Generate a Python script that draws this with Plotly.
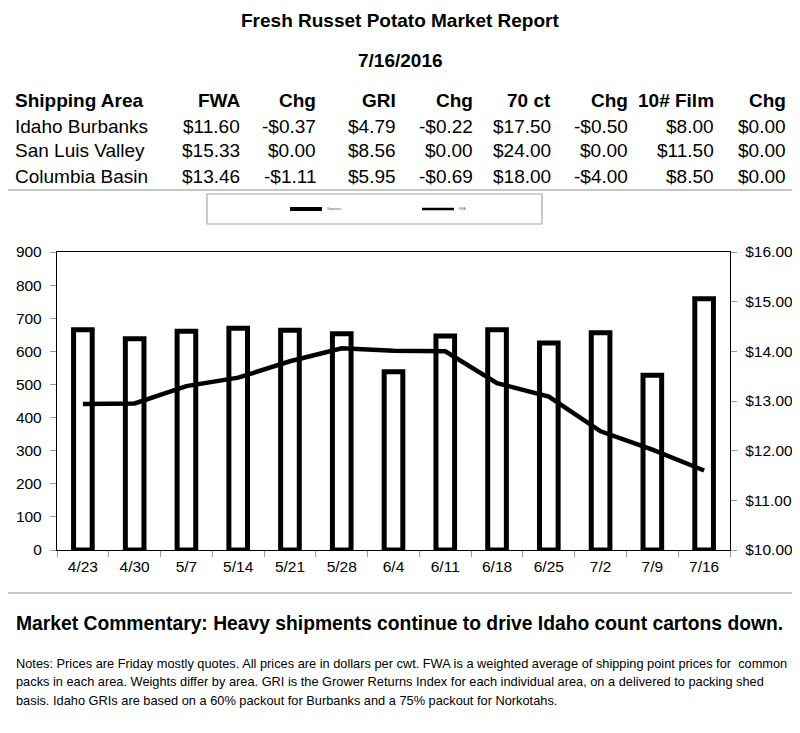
import plotly.graph_objects as go

# The page body has an 8px margin, so the figure spans 8..800 x 8..733 of the window
OFF = 8
W, H = 800 - OFF, 733 - OFF

title = "Fresh Russet Potato Market Report"
report_date = "7/16/2016"
table_header = ["Shipping Area", "FWA", "Chg", "GRI", "Chg", "70 ct", "Chg", "10# Film", "Chg"]
areas = ["Idaho Burbanks", "San Luis Valley", "Columbia Basin"]
fwa_vals = ["$11.60", "$15.33", "$13.46"]
fwa_chg = ["-$0.37", "$0.00", "-$1.11"]
gri_vals = ["$4.79", "$8.56", "$5.95"]
gri_chg = ["-$0.22", "$0.00", "-$0.69"]
ct70_vals = ["$17.50", "$24.00", "$18.00"]
ct70_chg = ["-$0.50", "$0.00", "-$4.00"]
film_vals = ["$8.00", "$11.50", "$8.50"]
film_chg = ["$0.00", "$0.00", "$0.00"]

weeks = ["4/23", "4/30", "5/7", "5/14", "5/21", "5/28", "6/4", "6/11", "6/18", "6/25", "7/2", "7/9", "7/16"]
shipments = [665, 638, 661, 670, 664, 653, 538, 646, 665, 625, 656, 528, 759]
fwa_idaho = [12.94, 12.95, 13.30, 13.47, 13.80, 14.06, 14.01, 14.00, 13.36, 13.09, 12.39, 12.02, 11.60]
legend_names = ["Shipments", "FWA"]

commentary = "Market Commentary: Heavy shipments continue to drive Idaho count cartons down."
notes_lines = [
    "Notes: Prices are Friday mostly quotes. All prices are in dollars per cwt. FWA is a weighted average of shipping point prices for  common",
    "packs in each area. Weights differ by area. GRI is the Grower Returns Index for each individual area, on a delivered to packing shed",
    "basis. Idaho GRIs are based on a 60% packout for Burbanks and a 75% packout for Norkotahs.",
]

def px(x):
    return (x - OFF) / W

def py(y):
    return 1 - (y - OFF) / H

ARIAL = "Liberation Sans, Arial, sans-serif"

fig = go.Figure()
fig.add_trace(go.Bar(x=weeks, y=shipments, name=legend_names[0], width=0.36,
                     marker=dict(color="white", line=dict(color="black", width=5)),
                     showlegend=False))
fig.add_trace(go.Scatter(x=weeks, y=fwa_idaho, name=legend_names[1], yaxis="y2", mode="lines",
                         line=dict(color="black", width=4.5), showlegend=False))

ann = []
ann.append(dict(text="<b>%s</b>" % title, x=px(400), y=py(21), xanchor="center"))
ann.append(dict(text="<b>%s</b>" % report_date, x=px(400), y=py(60), xanchor="center"))

col_right = [None, 242, 318, 398, 475, 553, 630, 716, 788]
header_y = 101
row_ys = [126, 151, 176]
for i, h in enumerate(table_header):
    if i == 0:
        ann.append(dict(text="<b>%s</b>" % h, x=px(13), y=py(header_y), xanchor="left"))
    else:
        ann.append(dict(text="<b>%s</b>" % h, x=px(col_right[i]), y=py(header_y), xanchor="right"))
cols = [fwa_vals, fwa_chg, gri_vals, gri_chg, ct70_vals, ct70_chg, film_vals, film_chg]
for r, name in enumerate(areas):
    ann.append(dict(text=name, x=px(13), y=py(row_ys[r]), xanchor="left"))
    for c, col in enumerate(cols):
        ann.append(dict(text=col[r], x=px(col_right[c + 1]), y=py(row_ys[r]), xanchor="right"))
for a in ann:
    a.update(xref="paper", yref="paper", showarrow=False, yanchor="middle",
             font=dict(family=ARIAL, size=19, color="black"))

# legend labels (tiny)
ann.append(dict(text=legend_names[0], x=px(325), y=py(209), xref="paper", yref="paper", showarrow=False,
                xanchor="left", yanchor="middle", font=dict(family=ARIAL, size=3, color="#555")))
ann.append(dict(text=legend_names[1], x=px(457), y=py(209), xref="paper", yref="paper", showarrow=False,
                xanchor="left", yanchor="middle", font=dict(family=ARIAL, size=3, color="#555")))

ann.append(dict(text="<b>%s</b>" % commentary, x=px(14), y=py(623), xref="paper", yref="paper", showarrow=False,
                xanchor="left", yanchor="middle", font=dict(family=ARIAL, size=19.3, color="black")))
for k, line in enumerate(notes_lines):
    ann.append(dict(text=line, x=px(14), y=py(663 + 18.5 * k), xref="paper", yref="paper", showarrow=False,
                    align="left", xanchor="left", yanchor="middle",
                    font=dict(family=ARIAL, size=12.8, color="black")))

frame = dict(color="#b4b4b4", width=1.5)
shapes = [
    dict(type="line", xref="paper", yref="paper", x0=px(8), x1=px(793), y0=py(190), y1=py(190), line=frame),
    dict(type="line", xref="paper", yref="paper", x0=px(793), x1=px(793), y0=py(190), y1=py(593), line=frame),
    dict(type="line", xref="paper", yref="paper", x0=px(8), x1=px(793), y0=py(593), y1=py(593), line=frame),
    dict(type="rect", xref="paper", yref="paper", x0=px(207), x1=px(542), y0=py(194), y1=py(224),
         line=dict(color="#a8a8a8", width=1.2)),
    dict(type="line", xref="paper", yref="paper", x0=px(290), x1=px(322), y0=py(209), y1=py(209),
         line=dict(color="black", width=4)),
    dict(type="line", xref="paper", yref="paper", x0=px(422), x1=px(454), y0=py(209), y1=py(209),
         line=dict(color="black", width=2.5)),
]

tickfont = dict(family=ARIAL, size=15.5, color="black")
fig.update_layout(
    template="none",
    width=W, height=H, margin=dict(l=0, r=0, t=0, b=0, autoexpand=False),
    paper_bgcolor="white", plot_bgcolor="white",
    annotations=ann, shapes=shapes, showlegend=False, bargap=0.64,
    xaxis=dict(domain=[px(57), px(730)], type="category", showline=True, linecolor="black", linewidth=1.3,
               mirror=True, ticks="outside", tickson="boundaries", ticklen=6, tickcolor="#999",
               showgrid=False, tickfont=tickfont, automargin=False, ticklabelstandoff=2),
    yaxis=dict(domain=[py(550), py(252)], range=[0, 900], dtick=100, showline=True, linecolor="black",
               linewidth=1.3, ticks="outside", ticklen=6, tickcolor="#999", showgrid=False, zeroline=False,
               tickfont=tickfont, automargin=False, ticklabelstandoff=5),
    yaxis2=dict(overlaying="y", side="right", range=[10, 16], dtick=1, tickformat="$.2f", showline=True,
                linecolor="black", linewidth=1.3, ticks="outside", ticklen=6, tickcolor="#999",
                showgrid=False, zeroline=False, tickfont=tickfont, automargin=False, ticklabelstandoff=5),
)

fig.write_html("out.html")
